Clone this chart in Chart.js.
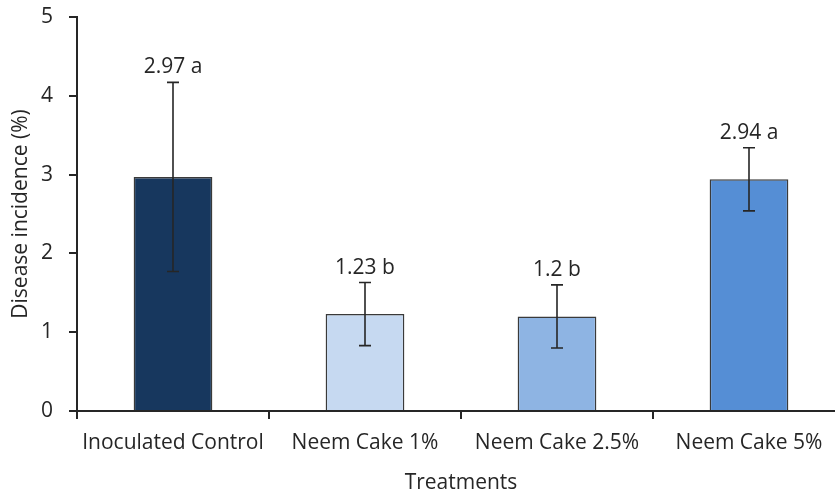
<!DOCTYPE html>
<html>
<head>
<meta charset="utf-8">
<script src="https://cdn.jsdelivr.net/npm/chart.js@4/dist/chart.umd.min.js"></script>
<style>
  html, body { margin: 0; padding: 0; background: #fff; overflow: hidden; }
  #wrap { width: 835px; height: 492px; overflow: hidden; }
  canvas { display: block; }
</style>
</head>
<body>
<div id="wrap"><canvas id="chart" width="845" height="492"></canvas></div>
<script>
// Treatments and measured disease incidence
const categories = ['Inoculated Control', 'Neem Cake 1%', 'Neem Cake 2.5%', 'Neem Cake 5%'];
const means = [2.97, 1.23, 1.2, 2.94];
const errors = [1.2, 0.4, 0.4, 0.4];
const letters = ['a', 'b', 'b', 'a'];
const barColors = ['#17375E', '#C6D9F1', '#8EB4E3', '#558ED5'];
const yTicks = [0, 1, 2, 3, 4, 5];

const FONT = '"Open Sans", "Noto Sans", sans-serif';
const INK = '#262626';
const FS = 21;

// Error bars and significance labels drawn on top of the bars
const errorBarPlugin = {
  id: 'errorBars',
  afterDatasetsDraw(chart) {
    const ctx = chart.ctx;
    const x = chart.scales.x, y = chart.scales.y;
    ctx.save();
    ctx.strokeStyle = INK;
    ctx.lineWidth = 1.6;
    means.forEach((m, i) => {
      const cx = x.getPixelForValue(i);
      const top = y.getPixelForValue(m + errors[i]);
      const bot = y.getPixelForValue(m - errors[i]);
      const cap = 6;
      ctx.beginPath();
      ctx.moveTo(cx, top); ctx.lineTo(cx, bot);
      ctx.moveTo(cx - cap, top); ctx.lineTo(cx + cap, top);
      ctx.moveTo(cx - cap, bot); ctx.lineTo(cx + cap, bot);
      ctx.stroke();
      ctx.fillStyle = INK;
      ctx.font = FS + 'px ' + FONT;
      ctx.textAlign = 'center';
      ctx.textBaseline = 'alphabetic';
      ctx.fillText(String(m) + ' ' + letters[i], cx, top - 9);
    });
    ctx.restore();
  }
};

new Chart(document.getElementById('chart'), {
  type: 'bar',
  data: {
    labels: categories,
    datasets: [{
      data: means,
      backgroundColor: barColors,
      borderColor: '#3a3a3a',
      borderWidth: 1.5,
      categoryPercentage: 1,
      barPercentage: 0.41
    }]
  },
  options: {
    responsive: false,
    animation: false,
    devicePixelRatio: 1,
    layout: { padding: { top: 17, left: 8, right: 0, bottom: 0 } },
    plugins: { legend: { display: false }, tooltip: { enabled: false } },
    scales: {
      x: {
        grid: { drawOnChartArea: false, drawTicks: true, tickLength: 8, color: INK, lineWidth: 2, offset: true },
        border: { display: true, color: INK, width: 2 },
        ticks: { color: INK, font: { family: FONT, size: FS }, padding: 11, maxRotation: 0 },
        title: { display: true, text: 'Treatments', color: INK, font: { family: FONT, size: FS }, padding: { top: 8, bottom: -4 } },
        afterFit(scale) { scale.height = 81; scale.paddingLeft = 0; scale.paddingRight = 0; }
      },
      y: {
        min: 0, max: 5,
        afterBuildTicks(scale) { scale.ticks = yTicks.map(v => ({ value: v })); },
        grid: { drawOnChartArea: false, drawTicks: true, tickLength: 8, color: INK, lineWidth: 2 },
        border: { display: true, color: INK, width: 2 },
        ticks: { color: INK, font: { family: FONT, size: FS }, padding: 16 },
        title: { display: true, text: 'Disease incidence (%)', color: INK, font: { family: FONT, size: FS }, padding: { top: 0, bottom: 0 } },
        afterFit(scale) { scale.width = 69; scale.paddingTop = 0; scale.paddingBottom = 0; }
      }
    }
  },
  plugins: [errorBarPlugin]
});
</script>
</body>
</html>
